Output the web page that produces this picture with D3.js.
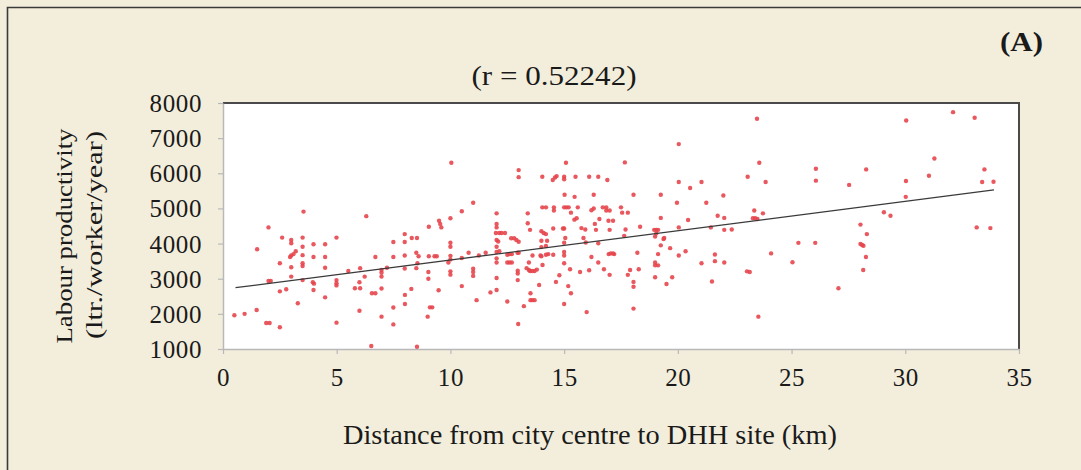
<!DOCTYPE html>
<html><head><meta charset="utf-8">
<script src="https://cdn.jsdelivr.net/npm/d3@7"></script>
<style>
html,body{margin:0;padding:0;background:#f3eedc;}
svg{display:block;}
text{font-family:"Liberation Serif","Times New Roman",serif;fill:#1a1a1a;}
</style></head><body>
<svg id="c" width="1081" height="470"></svg>
<script>
const distance = [
0.5,0.95,1.48,1.5,2.0,1.9,2.05,2.0,2.1,2.5,2.5,2.5,2.78,2.6,3.0,3.0,3.0,3.1,3.2,2.95,3.0,3.0,3.29,3.54,3.5,3.5,3.5,3.5,3.5,3.5,
3.98,3.98,3.95,4.0,3.98,4.49,4.49,4.49,4.49,4.99,4.99,4.99,4.99,4.99,5.51,6.0,6.03,5.8,6.03,6.0,6.23,6.3,6.52,6.55,6.7,6.7,
6.97,6.97,6.97,6.97,6.97,7.21,7.49,7.49,7.49,7.49,7.99,7.99,7.99,7.99,8.0,8.0,8.28,8.3,8.53,8.53,8.5,8.55,8.5,
8.6,10.04,10.0,10.0,10.0,10.0,10.0,10.0,10.0,9.91,9.05,9.5,9.55,9.6,9.05,9.3,9.4,9.03,9.03,9.48,9.1,9.2,9.0,
10.5,10.5,10.5,10.8,11.0,11.0,11.0,11.0,11.15,11.25,11.55,11.76,12.03,12.03,12.03,12.03,12.1,12.0,12.15,12.25,12.4,
12.03,12.03,12.15,12.03,12.03,12.03,12.03,12.5,12.6,12.7,12.5,12.6,12.7,12.5,12.67,12.8,12.9,13.0,12.95,13.0,
12.96,12.96,12.96,13.0,13.0,12.98,13.23,13.4,13.4,13.5,13.45,13.35,13.45,13.5,13.6,13.7,13.8,13.52,13.52,13.6,13.7,
13.61,13.9,13.96,14.0,14.2,14.0,14.1,14.2,14.04,14.2,14.04,14.0,14.0,14.25,14.05,14.2,14.3,14.55,14.55,14.5,14.6,14.67,
14.52,14.52,14.64,14.79,15.0,15.0,15.08,15.02,15.0,15.1,15.2,15.3,14.95,15.0,15.05,15.0,15.0,15.0,15.0,15.26,15.18,15.3,15.0,
15.46,15.5,15.45,15.55,15.6,15.7,15.76,15.85,15.93,15.95,15.99,16.1,16.1,16.2,16.2,16.3,16.3,16.35,16.4,16.5,16.5,16.55,16.5,
16.7,16.85,16.85,16.75,16.9,16.95,17.0,17.0,17.0,16.96,17.05,17.15,17.2,17.15,17.5,
17.67,17.55,17.8,17.7,17.64,18.05,18.34,18.22,17.9,17.8,18.28,18.05,18.05,18.05,18.96,19.05,19.13,19.0,19.05,19.25,19.25,
19.37,19.4,19.25,19.13,19.0,19.0,19.13,19.0,19.5,19.66,19.75,20.04,20.04,19.96,20.04,20.04,20.34,20.45,20.54,21.04,21.04,
21.25,21.45,21.63,21.63,21.5,21.75,22.0,22.04,22.04,22.04,22.37,23.07,23.04,23.16,23.36,23.3,23.4,23.5,23.48,23.58,23.74,
23.86,23.54,24.1,25.04,25.3,26.04,26.07,26.07,
27.06,27.53,28.03,28.03,28.1,28.16,28.31,28.27,28.15,28.28,29.06,29.35,30.04,30.03,30.02,31.04,31.28,32.1,33.05,33.14,
33.48,33.38,33.88,33.74
];
const productivity = [
1960,2000,2110,3840,4460,1740,1740,2935,2935,3440,2640,1620,2700,4170,4100,4010,3660,3700,3780,3620,3325,3060,2300,4910,4170,3910,3670,3440,3360,2960,
3980,3620,2900,2860,2680,3980,3620,3310,2470,4170,2960,2870,2810,1750,3220,2900,3300,2730,2730,2090,3060,4780,1085,2585,2585,3620,
3250,3170,3060,2720,1920,3310,4045,3620,2180,1700,4270,4045,3660,3290,2540,2280,2710,4160,4160,1065,3740,3440,3300,
3640,6300,4720,4025,3910,3650,3550,3210,3115,3460,4480,4650,4560,4460,3640,3640,3640,3190,3000,2670,2185,2185,1920,
4920,3590,2790,3740,5160,3285,3190,3080,2390,3660,3740,2610,4860,4560,4460,4100,4060,4300,4300,4300,4300,
3910,3760,3780,3580,3460,3020,2680,3460,3460,3460,3680,3700,3700,2350,4150,4150,4100,4050,3740,3740,
3230,3150,2960,6090,5890,1710,2220,4860,4580,4390,3460,3300,3250,3220,3220,3220,3260,2585,2390,2390,2390,
3660,2820,3660,3900,3930,4350,4300,4270,5030,5030,5900,3640,4080,4080,3390,3680,3700,5030,4940,5810,5880,5920,
4430,3680,2910,3100,5900,5830,6300,5390,5030,5030,5030,4880,4430,4430,4160,4025,3760,3660,3440,3270,2790,2585,2280,
5330,5900,4680,4720,5030,3190,4440,4160,4400,4030,2050,5900,3240,3620,4950,5000,5390,4560,4390,5900,3460,4700,4010,
5030,5030,4940,3270,5810,4650,4940,4390,3110,3700,3720,3720,3700,4650,5030,
6310,4880,4880,4400,4220,5390,4480,3740,3250,3110,3270,2910,2770,2150,4390,4390,4390,4200,4290,5390,4730,
4130,4160,3950,3700,3460,3380,3380,3040,2850,3870,3040,6830,5750,5160,4460,3660,3780,4670,5580,5750,3440,
5160,4460,3690,3500,2920,4790,5370,4730,4390,3460,4400,5900,3210,3190,4940,4720,4720,4700,7550,6300,4860,
5750,1920,3720,3470,4020,4020,6130,5790,
2730,5670,4540,3990,3960,3940,4270,3620,3250,6110,4890,4790,7500,5780,5330,5930,6420,7740,7580,4460,
6110,5750,5760,4440
];
// fitted trend line as drawn
const trendX = [0.55, 33.9];
const trendY = [2745, 5525];
const xTicks = [0,5,10,15,20,25,30,35];
const yTicks = [1000,2000,3000,4000,5000,6000,7000,8000];
const titleText = "(r = 0.52242)";
const panelText = "(A)";
const xLabel = "Distance from city centre to DHH site (km)";
const yLabel1 = "Labour productivity";
const yLabel2 = "(ltr./worker/year)";

const svg = d3.select("#c");
const L=223, R=1019, T=103, B=349;
const x = d3.scaleLinear().domain([0,35]).range([L,R]);
const y = d3.scaleLinear().domain([1000,8000]).range([B,T]);

// outer frame (left and top visible)
svg.append("path").attr("d","M7.5,470 L7.5,7.5 L1081,7.5").attr("fill","none").attr("stroke","#3a3a3a").attr("stroke-width",1.6);

// plot area
svg.append("rect").attr("x",L).attr("y",T).attr("width",R-L).attr("height",B-T).attr("fill","#ffffff");
svg.append("path").attr("d",`M${L},${T} L${R},${T} L${R},${B}`).attr("fill","none").attr("stroke","#4a4a4a").attr("stroke-width",2);

// axes
const xAxis = d3.axisBottom(x).tickValues(xTicks).tickFormat(d3.format("d")).tickSize(5).tickPadding(14).tickSizeOuter(0);
const gx = svg.append("g").attr("transform",`translate(0,${B})`).call(xAxis);
const yAxis = d3.axisLeft(y).tickValues(yTicks).tickFormat(d3.format("d")).tickSize(5).tickPadding(16).tickSizeOuter(0);
const gy = svg.append("g").attr("transform",`translate(${L},0)`).call(yAxis);
[gx,gy].forEach(g=>{
  g.select(".domain").attr("stroke","#b8b8b8").attr("stroke-width",1.5);
  g.selectAll(".tick line").attr("stroke","#b8b8b8").attr("stroke-width",1.2);
  g.selectAll(".tick text").attr("font-family","Liberation Serif, serif").attr("font-size",25).attr("fill","#1a1a1a")
    .attr("letter-spacing","0.6px");
});
gy.selectAll(".tick text").attr("dy","0.34em");

// points
svg.append("g").selectAll("circle").data(distance.map((d,i)=>[d,productivity[i]]))
  .join("circle").attr("cx",d=>x(d[0])).attr("cy",d=>y(d[1])).attr("r",2.2)
  .attr("fill","#e5464d").attr("fill-opacity",0.9);

// trend line
svg.append("path").datum(trendX.map((d,i)=>[d,trendY[i]]))
  .attr("d",d3.line().x(d=>x(d[0])).y(d=>y(d[1])))
  .attr("stroke","#3a3a3a").attr("stroke-width",1.3).attr("fill","none");

// texts
svg.append("text").attr("x",554).attr("y",85).attr("text-anchor","middle").attr("font-size",27)
  .attr("textLength",165).attr("lengthAdjust","spacingAndGlyphs").text(titleText);
svg.append("text").attr("x",1043).attr("y",51).attr("text-anchor","end").attr("font-size",27).attr("font-weight","bold")
  .attr("textLength",43).attr("lengthAdjust","spacingAndGlyphs").text(panelText);
svg.append("text").attr("x",590).attr("y",444).attr("text-anchor","middle").attr("font-size",27)
  .attr("textLength",494).attr("lengthAdjust","spacingAndGlyphs").text(xLabel);
svg.append("text").attr("transform","translate(72,236) rotate(-90)").attr("text-anchor","middle").attr("font-size",23)
  .attr("textLength",215).attr("lengthAdjust","spacingAndGlyphs").text(yLabel1);
svg.append("text").attr("transform","translate(102,235) rotate(-90)").attr("text-anchor","middle").attr("font-size",23)
  .attr("textLength",208).attr("lengthAdjust","spacingAndGlyphs").text(yLabel2);
</script></body></html>
